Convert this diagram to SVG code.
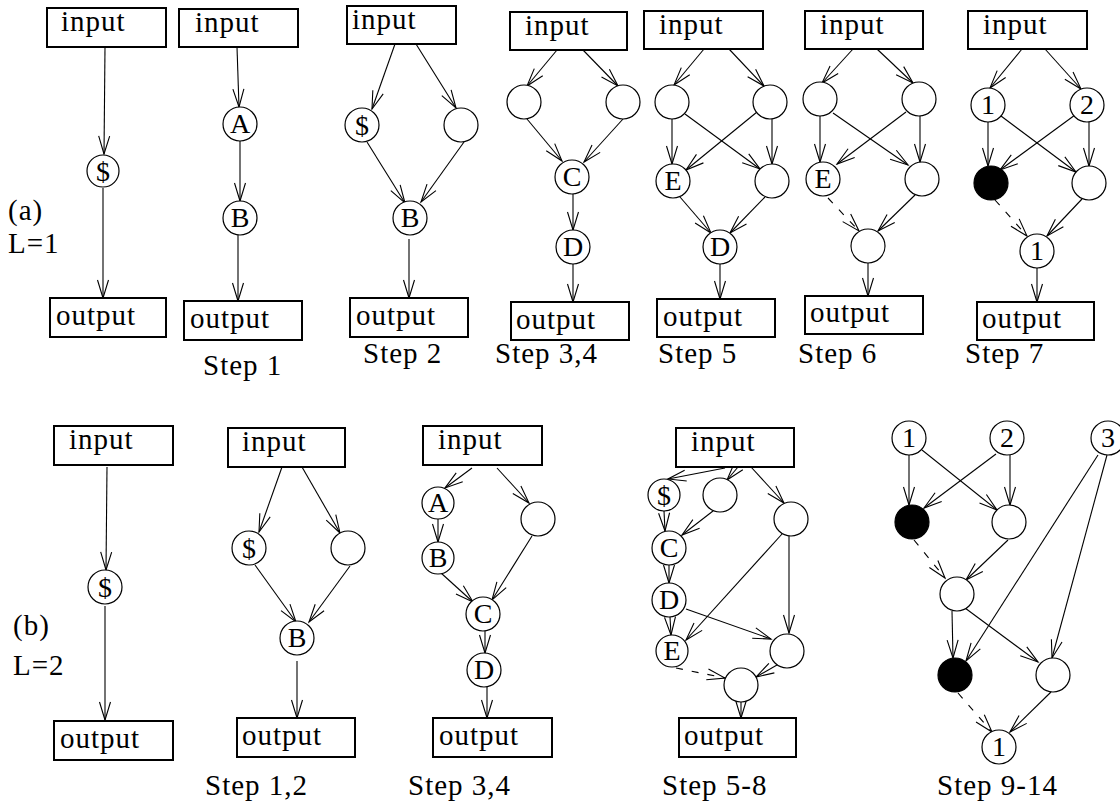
<svg xmlns="http://www.w3.org/2000/svg" width="1120" height="806" viewBox="0 0 1120 806">
<style>
.box{fill:#fff;stroke:#000;stroke-width:2}
.nd{fill:#fff;stroke:#000;stroke-width:1.2}
.blk{fill:#000;stroke:#000;stroke-width:1.2}
.e{stroke:#000;stroke-width:1.1;fill:none;marker-end:url(#ah)}
.d{stroke-dasharray:7 9}
text{font-family:"Liberation Serif","Times New Roman",serif;fill:#000}
.bt{font-size:29px;letter-spacing:1px}
.nt{font-size:28px;text-anchor:middle}
.st{font-size:29px;letter-spacing:1px}
.lb{font-size:29px;letter-spacing:1px}
</style>
<defs>
<marker id="ah" markerUnits="userSpaceOnUse" markerWidth="22" markerHeight="16" viewBox="-20 -8 22 16" refX="0" refY="0" orient="auto">
<path d="M-18,-5.5 L0,0 L-18,5.5" fill="none" stroke="#000" stroke-width="1.1"/>
</marker>
</defs>

<!-- labels -->
<text class="lb" x="8" y="220">(a)</text>
<text class="lb" x="8" y="253">L=1</text>
<text class="lb" x="13" y="635">(b)</text>
<text class="lb" x="13" y="675">L=2</text>
<text class="st" x="203" y="375">Step 1</text>
<text class="st" x="363" y="363">Step 2</text>
<text class="st" x="495" y="363">Step 3,4</text>
<text class="st" x="658" y="363">Step 5</text>
<text class="st" x="798" y="363">Step 6</text>
<text class="st" x="965" y="363">Step 7</text>
<text class="st" x="205" y="795">Step 1,2</text>
<text class="st" x="408" y="795">Step 3,4</text>
<text class="st" x="662" y="795">Step 5-8</text>
<text class="st" x="937" y="795">Step 9-14</text>

<g id="connectors">
<!-- a1 -->
<line class="e" x1="105" y1="47" x2="104" y2="154"/>
<line class="e" x1="103" y1="188" x2="103" y2="298"/>
<!-- a2 -->
<line class="e" x1="237" y1="47" x2="239" y2="107"/>
<line class="e" x1="240" y1="141" x2="240" y2="201"/>
<line class="e" x1="238" y1="235" x2="238" y2="301"/>
<!-- a3 -->
<line class="e" x1="395" y1="44" x2="372" y2="109"/>
<line class="e" x1="416" y1="44" x2="456" y2="108"/>
<line class="e" x1="367" y1="142" x2="405" y2="203"/>
<line class="e" x1="464" y1="142" x2="421" y2="202"/>
<line class="e" x1="409" y1="239" x2="409" y2="298"/>
<!-- a4 -->
<line class="e" x1="557" y1="50" x2="527" y2="86"/>
<line class="e" x1="583" y1="50" x2="618" y2="86"/>
<line class="e" x1="527" y1="119" x2="562" y2="161"/>
<line class="e" x1="623" y1="119" x2="584" y2="162"/>
<line class="e" x1="573" y1="194" x2="573" y2="230"/>
<line class="e" x1="573" y1="264" x2="573" y2="302"/>
<!-- a5 -->
<line class="e" x1="704" y1="49" x2="674" y2="85"/>
<line class="e" x1="729" y1="49" x2="764" y2="86"/>
<line class="e" x1="672" y1="119" x2="672" y2="164"/>
<line class="e" x1="685" y1="114" x2="760" y2="169"/>
<line class="e" x1="757" y1="112" x2="686" y2="170"/>
<line class="e" x1="772" y1="119" x2="772" y2="164"/>
<line class="e" x1="680" y1="197" x2="711" y2="233"/>
<line class="e" x1="765" y1="197" x2="730" y2="233"/>
<line class="e" x1="720" y1="264" x2="720" y2="299"/>
<!-- a6 -->
<line class="e" x1="853" y1="49" x2="822" y2="83"/>
<line class="e" x1="877" y1="49" x2="913" y2="83"/>
<line class="e" x1="820" y1="116" x2="820" y2="162"/>
<line class="e" x1="833" y1="113" x2="908" y2="165"/>
<line class="e" x1="906" y1="112" x2="837" y2="164"/>
<line class="e" x1="920" y1="116" x2="920" y2="162"/>
<line class="e d" x1="828" y1="198" x2="859" y2="231"/>
<line class="e" x1="915" y1="195" x2="878" y2="231"/>
<line class="e" x1="868" y1="263" x2="868" y2="296"/>
<!-- a7 -->
<line class="e" x1="1022" y1="49" x2="990" y2="88"/>
<line class="e" x1="1045" y1="49" x2="1081" y2="89"/>
<line class="e" x1="988" y1="122" x2="988" y2="166"/>
<line class="e" x1="1001" y1="116" x2="1076" y2="172"/>
<line class="e" x1="1075" y1="115" x2="1000" y2="170"/>
<line class="e" x1="1089" y1="122" x2="1089" y2="166"/>
<line class="e d" x1="995" y1="200" x2="1027" y2="236"/>
<line class="e" x1="1082" y1="199" x2="1047" y2="236"/>
<line class="e" x1="1037" y1="268" x2="1037" y2="302"/>
<!-- b1 -->
<line class="e" x1="107" y1="467" x2="106" y2="570"/>
<line class="e" x1="105" y1="606" x2="105" y2="720"/>
<!-- b2 -->
<line class="e" x1="282" y1="467" x2="259" y2="532"/>
<line class="e" x1="302" y1="467" x2="340" y2="533"/>
<line class="e" x1="255" y1="565" x2="296" y2="622"/>
<line class="e" x1="350" y1="566" x2="309" y2="622"/>
<line class="e" x1="297" y1="661" x2="297" y2="718"/>
<!-- b3 -->
<line class="e" x1="472" y1="468" x2="445" y2="488"/>
<line class="e" x1="497" y1="468" x2="529" y2="503"/>
<line class="e" x1="438" y1="519" x2="438" y2="542"/>
<line class="e" x1="441" y1="573" x2="473" y2="602"/>
<line class="e" x1="532" y1="536" x2="492" y2="600"/>
<line class="e" x1="485" y1="631" x2="485" y2="653"/>
<line class="e" x1="487" y1="687" x2="487" y2="718"/>
<!-- b4 -->
<line class="e" x1="725" y1="468" x2="668" y2="479"/>
<line class="e" x1="738" y1="467" x2="727" y2="480"/>
<line class="e" x1="751" y1="467" x2="784" y2="503"/>
<line class="e" x1="664" y1="511" x2="665" y2="531"/>
<line class="e" x1="713" y1="511" x2="682" y2="535"/>
<line class="e" x1="669" y1="565" x2="669" y2="583"/>
<line class="e" x1="670" y1="617" x2="671" y2="635"/>
<line class="e" x1="782" y1="534" x2="686" y2="640"/>
<line class="e" x1="789" y1="536" x2="789" y2="633"/>
<line class="e" x1="686" y1="609" x2="771" y2="639"/>
<line class="e d" x1="676" y1="668" x2="725" y2="678"/>
<line class="e" x1="777" y1="665" x2="756" y2="677"/>
<line class="e" x1="741" y1="702" x2="741" y2="718"/>
<!-- b5 -->
<line class="e" x1="909" y1="455" x2="909" y2="505"/>
<line class="e" x1="922" y1="450" x2="997" y2="510"/>
<line class="e" x1="996" y1="454" x2="924" y2="508"/>
<line class="e" x1="1010" y1="455" x2="1010" y2="505"/>
<line class="e d" x1="914" y1="540" x2="945" y2="578"/>
<line class="e" x1="1008" y1="540" x2="966" y2="580"/>
<line class="e" x1="952" y1="611" x2="953" y2="658"/>
<line class="e" x1="965" y1="608" x2="1038" y2="662"/>
<line class="e" x1="1098" y1="455" x2="966" y2="661"/>
<line class="e" x1="1107" y1="455" x2="1052" y2="658"/>
<line class="e d" x1="958" y1="693" x2="992" y2="732"/>
<line class="e" x1="1051" y1="692" x2="1010" y2="732"/>
</g>

<!-- panel a1 -->
<g id="a1_in"><rect class="box" x="47" y="8" width="119" height="39"/><text class="bt" x="61" y="31">input</text></g>
<g id="a1_s"><circle class="nd" cx="103" cy="171" r="16"/><text class="nt" x="103" y="181">$</text></g>
<g id="a1_out"><rect class="box" x="50" y="298" width="116" height="39"/><text class="bt" x="56" y="325">output</text></g>

<!-- panel a2 -->
<g id="a2_in"><rect class="box" x="179" y="9" width="119" height="38"/><text class="bt" x="195" y="32">input</text></g>
<g id="a2_A"><circle class="nd" cx="240" cy="124" r="17"/><text class="nt" x="240" y="133">A</text></g>
<g id="a2_B"><circle class="nd" cx="240" cy="218" r="17"/><text class="nt" x="240" y="227">B</text></g>
<g id="a2_out"><rect class="box" x="184" y="301" width="118" height="39"/><text class="bt" x="190" y="328">output</text></g>

<!-- panel a3 -->
<g id="a3_in"><rect class="box" x="347" y="6" width="109" height="38"/><text class="bt" x="352" y="29">input</text></g>
<g id="a3_s"><circle class="nd" cx="362" cy="125" r="17"/><text class="nt" x="362" y="135">$</text></g>
<g id="a3_r"><circle class="nd" cx="461" cy="125" r="17"/></g>
<g id="a3_B"><circle class="nd" cx="410" cy="218" r="17"/><text class="nt" x="410" y="227">B</text></g>
<g id="a3_out"><rect class="box" x="350" y="298" width="118" height="39"/><text class="bt" x="356" y="325">output</text></g>

<!-- panel a4 -->
<g id="a4_in"><rect class="box" x="510" y="12" width="117" height="38"/><text class="bt" x="525" y="35">input</text></g>
<g id="a4_l"><circle class="nd" cx="524" cy="102" r="17"/></g>
<g id="a4_r"><circle class="nd" cx="623" cy="102" r="17"/></g>
<g id="a4_C"><circle class="nd" cx="572" cy="177" r="17"/><text class="nt" x="572" y="186">C</text></g>
<g id="a4_D"><circle class="nd" cx="573" cy="247" r="17"/><text class="nt" x="573" y="256">D</text></g>
<g id="a4_out"><rect class="box" x="511" y="302" width="118" height="38"/><text class="bt" x="516" y="329">output</text></g>

<!-- panel a5 -->
<g id="a5_in"><rect class="box" x="644" y="11" width="119" height="38"/><text class="bt" x="659" y="34">input</text></g>
<g id="a5_tl"><circle class="nd" cx="672" cy="102" r="17"/></g>
<g id="a5_tr"><circle class="nd" cx="770" cy="102" r="17"/></g>
<g id="a5_E"><circle class="nd" cx="673" cy="181" r="17"/><text class="nt" x="673" y="190">E</text></g>
<g id="a5_r"><circle class="nd" cx="772" cy="181" r="17"/></g>
<g id="a5_D"><circle class="nd" cx="720" cy="247" r="17"/><text class="nt" x="720" y="256">D</text></g>
<g id="a5_out"><rect class="box" x="657" y="299" width="118" height="38"/><text class="bt" x="663" y="326">output</text></g>

<!-- panel a6 -->
<g id="a6_in"><rect class="box" x="805" y="11" width="118" height="38"/><text class="bt" x="820" y="34">input</text></g>
<g id="a6_tl"><circle class="nd" cx="820" cy="99" r="17"/></g>
<g id="a6_tr"><circle class="nd" cx="919" cy="99" r="17"/></g>
<g id="a6_E"><circle class="nd" cx="823" cy="179" r="17"/><text class="nt" x="823" y="188">E</text></g>
<g id="a6_r"><circle class="nd" cx="922" cy="179" r="17"/></g>
<g id="a6_b"><circle class="nd" cx="868" cy="246" r="17"/></g>
<g id="a6_out"><rect class="box" x="805" y="296" width="118" height="38"/><text class="bt" x="810" y="322">output</text></g>

<!-- panel a7 -->
<g id="a7_in"><rect class="box" x="968" y="11" width="119" height="38"/><text class="bt" x="983" y="34">input</text></g>
<g id="a7_1"><circle class="nd" cx="988" cy="105" r="17"/><text class="nt" x="988" y="114">1</text></g>
<g id="a7_2"><circle class="nd" cx="1087" cy="105" r="17"/><text class="nt" x="1087" y="114">2</text></g>
<g id="a7_f"><circle class="blk" cx="991" cy="183" r="17"/></g>
<g id="a7_r"><circle class="nd" cx="1089" cy="183" r="17"/></g>
<g id="a7_1b"><circle class="nd" cx="1037" cy="251" r="17"/><text class="nt" x="1037" y="260">1</text></g>
<g id="a7_out"><rect class="box" x="977" y="302" width="117" height="38"/><text class="bt" x="982" y="328">output</text></g>

<!-- panel b1 -->
<g id="b1_in"><rect class="box" x="54" y="426" width="119" height="39"/><text class="bt" x="69" y="449">input</text></g>
<g id="b1_s"><circle class="nd" cx="105" cy="587" r="17"/><text class="nt" x="105" y="597">$</text></g>
<g id="b1_out"><rect class="box" x="54" y="721" width="119" height="39"/><text class="bt" x="60" y="748">output</text></g>

<!-- panel b2 -->
<g id="b2_in"><rect class="box" x="228" y="428" width="117" height="39"/><text class="bt" x="242" y="451">input</text></g>
<g id="b2_s"><circle class="nd" cx="249" cy="548" r="17"/><text class="nt" x="249" y="558">$</text></g>
<g id="b2_r"><circle class="nd" cx="348" cy="548" r="17"/></g>
<g id="b2_B"><circle class="nd" cx="297" cy="638" r="17"/><text class="nt" x="297" y="647">B</text></g>
<g id="b2_out"><rect class="box" x="237" y="718" width="118" height="39"/><text class="bt" x="242" y="745">output</text></g>

<!-- panel b3 -->
<g id="b3_in"><rect class="box" x="423" y="426" width="119" height="39"/><text class="bt" x="438" y="449">input</text></g>
<g id="b3_A"><circle class="nd" cx="438" cy="503" r="16"/><text class="nt" x="438" y="512">A</text></g>
<g id="b3_B"><circle class="nd" cx="438" cy="558" r="16"/><text class="nt" x="438" y="567">B</text></g>
<g id="b3_r"><circle class="nd" cx="538" cy="519" r="17"/></g>
<g id="b3_C"><circle class="nd" cx="483" cy="614" r="17"/><text class="nt" x="483" y="623">C</text></g>
<g id="b3_D"><circle class="nd" cx="484" cy="670" r="17"/><text class="nt" x="484" y="679">D</text></g>
<g id="b3_out"><rect class="box" x="433" y="718" width="119" height="39"/><text class="bt" x="439" y="745">output</text></g>

<!-- panel b4 -->
<g id="b4_in"><rect class="box" x="676" y="428" width="118" height="39"/><text class="bt" x="691" y="451">input</text></g>
<g id="b4_s"><circle class="nd" cx="664" cy="495" r="16"/><text class="nt" x="664" y="505">$</text></g>
<g id="b4_c2"><circle class="nd" cx="720" cy="495" r="17"/></g>
<g id="b4_rt"><circle class="nd" cx="791" cy="519" r="17"/></g>
<g id="b4_C"><circle class="nd" cx="669" cy="548" r="17"/><text class="nt" x="669" y="557">C</text></g>
<g id="b4_D"><circle class="nd" cx="669" cy="600" r="17"/><text class="nt" x="669" y="609">D</text></g>
<g id="b4_E"><circle class="nd" cx="672" cy="651" r="16"/><text class="nt" x="672" y="660">E</text></g>
<g id="b4_rb"><circle class="nd" cx="787" cy="651" r="17"/></g>
<g id="b4_bot"><circle class="nd" cx="741" cy="685" r="17"/></g>
<g id="b4_out"><rect class="box" x="679" y="718" width="117" height="39"/><text class="bt" x="684" y="745">output</text></g>

<!-- panel b5 -->
<g id="b5_1"><circle class="nd" cx="909" cy="438" r="17"/><text class="nt" x="909" y="447">1</text></g>
<g id="b5_2"><circle class="nd" cx="1007" cy="438" r="17"/><text class="nt" x="1007" y="447">2</text></g>
<g id="b5_3"><circle class="nd" cx="1108" cy="438" r="17"/><text class="nt" x="1108" y="447">3</text></g>
<g id="b5_f"><circle class="blk" cx="912" cy="522" r="17"/></g>
<g id="b5_r"><circle class="nd" cx="1009" cy="522" r="17"/></g>
<g id="b5_m"><circle class="nd" cx="957" cy="594" r="17"/></g>
<g id="b5_f2"><circle class="blk" cx="955" cy="675" r="17"/></g>
<g id="b5_r2"><circle class="nd" cx="1053" cy="675" r="17"/></g>
<g id="b5_1b"><circle class="nd" cx="999" cy="747" r="17"/><text class="nt" x="999" y="756">1</text></g>
</svg>
